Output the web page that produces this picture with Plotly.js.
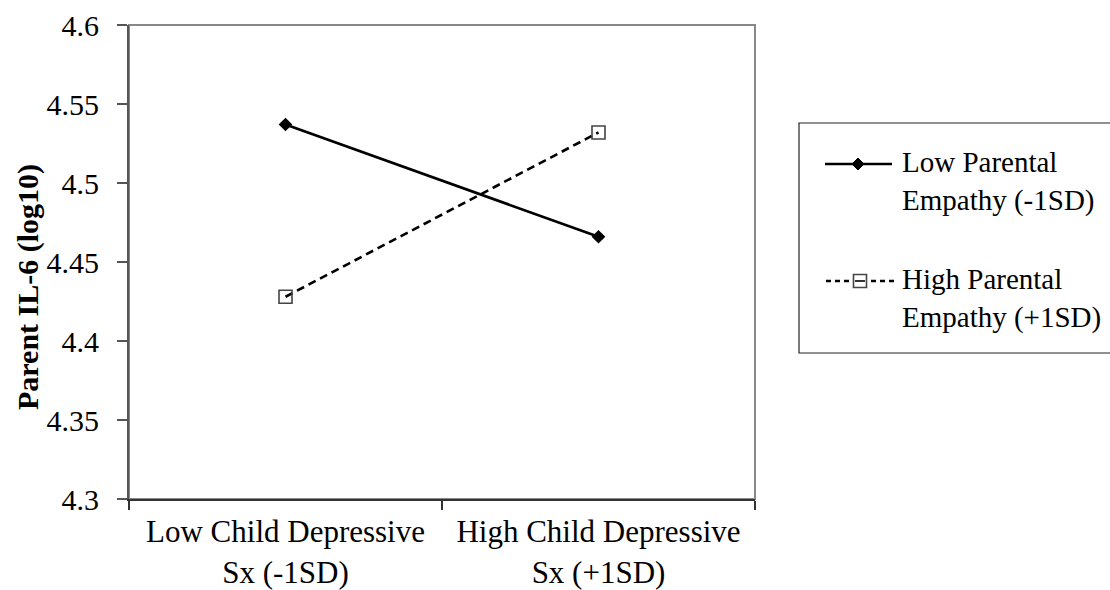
<!DOCTYPE html>
<html>
<head>
<meta charset="utf-8">
<script src="https://cdn.plot.ly/plotly-3.0.1.min.js"></script>
<style>html,body{margin:0;padding:0;background:#fff;}#chart{width:1110px;height:590px;}</style>
</head>
<body>
<div id="chart"></div>
<script>
const categories = ["Low Child Depressive<br>Sx (-1SD)", "High Child Depressive<br>Sx (+1SD)"];
const lowEmpathy = [4.537, 4.466];
const highEmpathy = [4.428, 4.532];
const seriesNames = ["Low Parental<br>Empathy (-1SD)", "High Parental<br>Empathy (+1SD)"];
const yTickVals = [4.3, 4.35, 4.4, 4.45, 4.5, 4.55, 4.6];
const yTickText = ["4.3", "4.35", "4.4", "4.45", "4.5", "4.55", "4.6"];
const yTitle = "Parent IL-6 (log10)";

const FONT = "Liberation Serif, Times New Roman, serif";

const traces = [
  {x: categories, y: lowEmpathy, type: "scatter", mode: "lines+markers", name: seriesNames[0],
   line: {color: "#000", width: 2.6},
   marker: {symbol: "diamond", size: 10.5, color: "#000"}},
  {x: categories, y: highEmpathy, type: "scatter", mode: "lines+markers", name: seriesNames[1],
   line: {color: "#000", width: 2.6, dash: "8px,5px"},
   marker: {symbol: "square-open", size: 13, color: "#444", line: {width: 1.6, color: "#444"}}}
];

// manual legend (lines + symbols + text), positioned in pixel terms relative to the figure
const L = 129, R = 755, T = 25, B = 499, W = 1110, H = 590;
const px = v => (v - L) / (R - L);
const py = v => (B - v) / (B - T);

const dia = (cx, cy, r) => {
  const pts = [[cx, cy - r], [cx + r, cy], [cx, cy + r], [cx - r, cy]];
  return "M" + pts.map(p => px(p[0]).toFixed(5) + "," + py(p[1]).toFixed(5)).join(" L") + " Z";
};

const shapes = [
  {type: "rect", xref: "paper", yref: "paper", x0: 0, x1: 1, y0: 0, y1: 1, layer: "below",
   line: {color: "#888", width: 2}},
  {type: "rect", xref: "paper", yref: "paper", x0: px(799), x1: px(1112), y0: py(353), y1: py(123),
   line: {color: "#222", width: 1.2}, fillcolor: "rgba(0,0,0,0)"},
  {type: "line", xref: "paper", yref: "paper", x0: px(825), x1: px(892), y0: py(164), y1: py(164),
   line: {color: "#000", width: 2.6}},
  {type: "line", xref: "paper", yref: "paper", x0: px(826), x1: px(894), y0: py(281), y1: py(281),
   line: {color: "#000", width: 2.6, dash: "5px,4px"}},
  {type: "path", xref: "paper", yref: "paper", path: dia(858, 164, 6), fillcolor: "#000",
   line: {color: "#000", width: 1}},
  {type: "rect", xref: "paper", yref: "paper", x0: px(853.5), x1: px(866.5), y0: py(287.5), y1: py(274.5),
   fillcolor: "#fff", line: {color: "#444", width: 1.6}},
  {type: "line", xref: "paper", yref: "paper", x0: px(855), x1: px(865), y0: py(281), y1: py(281),
   line: {color: "#000", width: 1.6}}
];

const annotations = [
  {xref: "paper", yref: "paper", x: px(28), y: py(287), text: "<b>" + yTitle + "</b>", showarrow: false,
   textangle: -90, font: {family: FONT, size: 30, color: "#000"}, xanchor: "center", yanchor: "middle"},
  {xref: "paper", yref: "paper", x: px(900), y: py(181), text: seriesNames[0], showarrow: false, align: "left",
   xanchor: "left", yanchor: "middle", font: {family: FONT, size: 29, color: "#000"}},
  {xref: "paper", yref: "paper", x: px(900), y: py(298), text: seriesNames[1], showarrow: false, align: "left",
   xanchor: "left", yanchor: "middle", font: {family: FONT, size: 29, color: "#000"}}
];

const layout = {
  width: W, height: H,
  margin: {l: L, r: W - R, t: T, b: H - B},
  paper_bgcolor: "#fff", plot_bgcolor: "#fff",
  showlegend: false,
  font: {family: FONT, size: 30, color: "#000"},
  xaxis: {type: "category", range: [-0.5, 1.5], tickson: "boundaries", ticks: "outside", ticklen: 9,
          tickwidth: 1.5, tickcolor: "#333", showline: true, linecolor: "#333", linewidth: 2,
          showgrid: false, zeroline: false, ticklabelstandoff: 4,
          tickfont: {family: FONT, size: 31, color: "#000"}},
  yaxis: {range: [4.3, 4.6], tickvals: yTickVals, ticktext: yTickText, ticks: "outside", ticklen: 10,
          tickwidth: 1.5, tickcolor: "#555", showline: true, linecolor: "#555", linewidth: 2,
          showgrid: false, zeroline: false, ticklabelstandoff: 12,
          tickfont: {family: FONT, size: 30, color: "#000"}},
  shapes: shapes,
  annotations: annotations
};

Plotly.newPlot("chart", traces, layout, {displayModeBar: false, staticPlot: true});
</script>
</body>
</html>
